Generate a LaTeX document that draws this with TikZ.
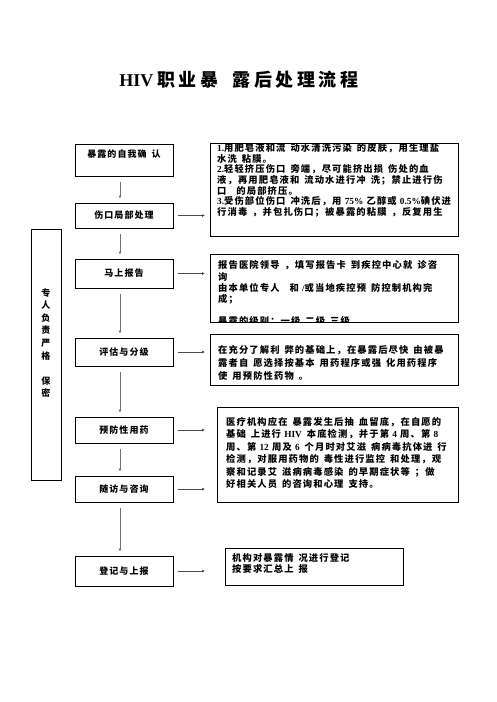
\documentclass[tikz,border=0pt]{standalone}
\usepackage{fontspec}
\usetikzlibrary{arrows.meta}
\newfontfamily\cjk{Noto Sans CJK SC}[LetterSpace=12]
\newfontfamily\cjkwide{Noto Sans CJK SC}[LetterSpace=20]
\newfontfamily\latinfont{Liberation Serif}
\newcommand{\lat}[1]{{\latinfont #1}}
\newcommand{\gapp}{\hspace{5pt}}

\begin{document}
\begin{tikzpicture}[
  x=1pt, y=-1pt,
  stage/.style={draw, line width=0.8pt, minimum width=98pt, inner sep=0pt,
    align=center, font=\cjk\bfseries\fontsize{9}{12}\selectfont},
  card/.style={draw, line width=0.8pt, anchor=north west, inner sep=0pt},
  cardtext/.style={anchor=north west, inner sep=0pt, align=left,
    font=\cjk\bfseries\fontsize{9.3}{#1}\selectfont},
  down/.style={-{Latex[length=3pt,width=3pt]}, black!55, line width=0.9pt,
    shorten <=6pt, shorten >=4pt},
  across/.style={-{Latex[length=3pt,width=3pt]}, black!70, line width=0.8pt,
    shorten <=5pt},
]
\useasboundingbox (0,0) rectangle (496,702);

% Title
\node[font=\fontsize{18}{20}\selectfont\bfseries] (title) at (239,80)
  {\lat{HIV}\hspace{4pt}{\cjkwide 职业暴}\hspace{14pt}{\cjkwide 露后处理流程}};

% Steps on the left
\node[stage, minimum height=32pt] (self) at (124,160) {暴露的自我确\gapp 认\\ \mbox{}};
\node[stage, minimum height=25pt] (wound) at (124,215.5) {伤口局部处理};
\node[stage, minimum height=29pt] (report) at (124,273.5) {马上报告};
\node[stage, minimum height=28pt] (assess) at (124,352) {评估与分级};
\node[stage, minimum height=26pt] (drug) at (124,430) {预防性用药};
\node[stage, minimum height=26pt] (visit) at (124,489) {随访与咨询};
\node[stage, minimum height=30pt] (record) at (124,571) {登记与上报};

% Side column
\node[draw, line width=0.8pt, minimum width=30pt, minimum height=251pt, inner sep=0pt]
  (duty) at (46,354.5) {};
\node[font=\cjk\bfseries\fontsize{9}{12.6}\selectfont, align=center, inner sep=0pt]
  (dutytext) at (46,343) {专\\人\\负\\责\\严\\格\\[12.6pt]保\\密};

% --- wound care ---
\node[card, minimum width=248pt, minimum height=93pt] (clean) at (210,143) {};
\node[cardtext=10.6] (cleantext) at (217,143.5)
  {\lat{1.}用肥皂液和流\gapp 动水清洗污染\gapp 的皮肤，用生理盐\\
   水洗\gapp 粘膜。\\
   \lat{2.}轻轻挤压伤口\gapp 旁端，尽可能挤出损\gapp 伤处的血\\
   液，再用肥皂液和\gapp 流动水进行冲\gapp 洗；禁止进行伤\\
   口\gapp\gapp 的局部挤压。\\
   \lat{3.}受伤部位伤口\gapp 冲洗后，用 \lat{75\%} 乙醇或 \lat{0.5\%}碘伏进\\
   行消毒\gapp ，并包扎伤口；被暴露的粘膜\gapp ，反复用生};

% --- report ---
\node[card, minimum width=248pt, minimum height=68pt] (notify) at (210,254) {};
\begin{scope}
\clip (notify.north west) rectangle (notify.south east);
\node[cardtext=11.3] (notifytext) at (218,260.5)
  {报告医院领导\gapp ，填写报告卡\gapp 到疾控中心就\gapp 诊咨\\
   询\\
   由本单位专人\gapp\gapp 和 \lat{/}或当地疾控预\gapp 防控制机构完\\
   成；\\[10.7pt]
   暴露的级别：一级\gapp 二级\gapp 三级};
\end{scope}

% --- grading ---
\node[card, minimum width=248pt, minimum height=51pt] (grade) at (210,334) {};
\node[cardtext=12.7] (gradetext) at (218,345.5)
  {在充分了解利\gapp 弊的基础上，在暴露后尽快\gapp 由被暴\\
   露者自\gapp 愿选择按基本\gapp 用药程序或强\gapp 化用药程序\\
   使\gapp 用预防性药物\gapp 。};

% --- drugs and follow-up ---
\node[card, minimum width=241pt, minimum height=95pt] (plan) at (217,407) {};
\node[cardtext=12.5] (plantext) at (226,417)
  {医疗机构应在\gapp 暴露发生后抽\gapp 血留底，在自愿的\\
   基础\gapp 上进行 \lat{HIV}\gapp 本底检测，并于第 \lat{4} 周、第 \lat{8}\\
   周、第 \lat{12} 周及 \lat{6}\gapp 个月时对艾滋\gapp 病病毒抗体进\gapp 行\\
   检测，对服用药物的\gapp 毒性进行监控\gapp 和处理，观\\
   察和记录艾\gapp 滋病病毒感染\gapp 的早期症状等\gapp ；做\\
   好相关人员\gapp 的咨询和心理\gapp 支持。};

% --- registration ---
\node[card, minimum width=178pt, minimum height=37pt] (log) at (225,548) {};
\node[cardtext=11] (logtext) at (232,553.5)
  {机构对暴露情\gapp 况进行登记\\
   按要求汇总上\gapp 报};

% Arrows
\coordinate (armend) at (205,0);
\foreach \a in {wound, report, assess, drug, visit, record}{
  \draw[across] (\a.east) -- (\a.east -| armend);
}
\foreach \a/\b in {self/wound, wound/report, report/assess, assess/drug, drug/visit, visit/record}{
  \draw[down] ([xshift=-4pt]\a.south) -- ([xshift=-4pt]\b.north);
}

\end{tikzpicture}
\end{document}
